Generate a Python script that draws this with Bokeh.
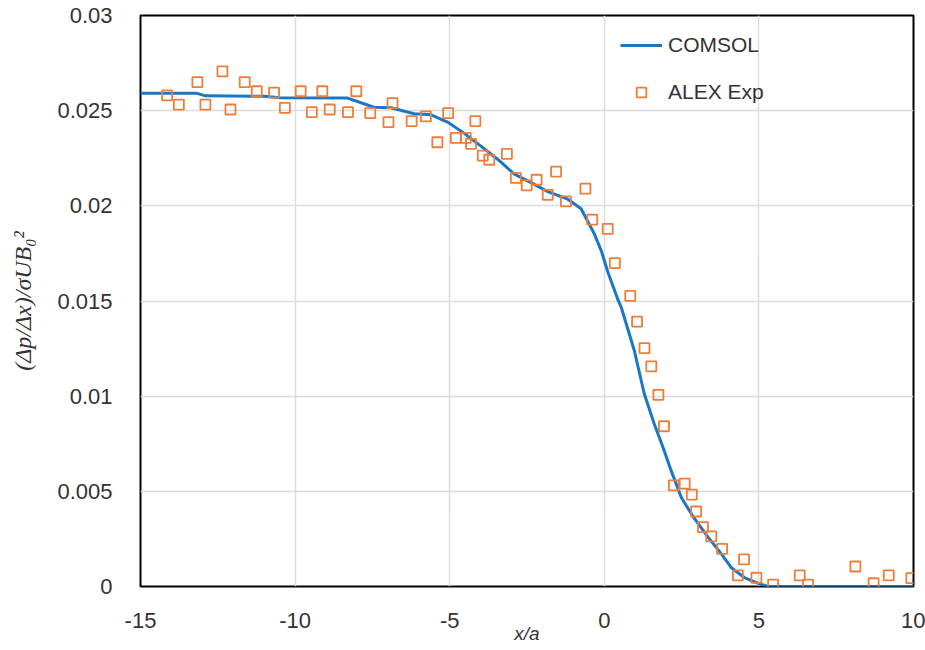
from bokeh.plotting import figure
from bokeh.models import Range1d, FixedTicker, Legend, LegendItem
from bokeh.embed import file_html
from bokeh.resources import INLINE

# COMSOL simulation curve
x_comsol = [-15.0, -13.2, -12.9, -11.0, -10.5, -8.3, -7.45, -6.9, -6.15, -5.6,
            -5.07, -4.54, -4.0, -3.45, -2.92, -2.37, -1.83, -1.18, -0.75, -0.33,
            -0.1, 0.12, 0.45, 0.55, 0.97, 1.29, 1.61, 1.9, 2.16, 2.49,
            2.9, 3.36, 3.78, 4.1, 4.53, 4.98, 5.3, 10.0]
y_comsol = [0.02592, 0.02592, 0.02578, 0.02576, 0.02568, 0.02566, 0.02518, 0.02515, 0.02484, 0.02478,
            0.02440, 0.02382, 0.02315, 0.02245, 0.02168, 0.02122, 0.02075, 0.02035, 0.01985, 0.01855,
            0.01765, 0.01650, 0.01503, 0.01466, 0.01240, 0.01014, 0.00856, 0.00730, 0.00610, 0.00468,
            0.00360, 0.00258, 0.00173, 0.00100, 0.00047, 0.00016, 0.0, 0.0]

# ALEX experimental data
x_exp = [-14.14, -13.76, -13.16, -12.9, -12.35, -12.09, -11.63, -11.24, -10.68, -10.33,
         -9.82, -9.46, -9.12, -8.88, -8.29, -8.02, -7.57, -6.98, -6.85, -6.23,
         -5.77, -5.4, -5.05, -4.8, -4.48, -4.31, -4.17, -3.93, -3.72, -3.15,
         -2.86, -2.51, -2.19, -1.83, -1.56, -1.24, -0.61, -0.39, 0.11, 0.34,
         0.84, 1.06, 1.30, 1.52, 1.75, 1.93, 2.25, 2.60, 2.83, 2.97,
         3.19, 3.46, 3.81, 4.32, 4.52, 4.92, 5.46, 6.32, 6.59, 8.12,
         8.71, 9.2, 9.93]
y_exp = [0.0258, 0.02532, 0.0265, 0.02532, 0.02706, 0.02506, 0.0265, 0.02602, 0.02595, 0.02515,
         0.02602, 0.02492, 0.02602, 0.02506, 0.02492, 0.02602, 0.02487, 0.0244, 0.0254, 0.02445,
         0.0247, 0.02334, 0.02487, 0.02357, 0.02357, 0.02326, 0.02445, 0.02264, 0.02242, 0.02273,
         0.02147, 0.02107, 0.02137, 0.02058, 0.0218, 0.02023, 0.0209, 0.01928, 0.01879, 0.01699,
         0.01527, 0.01392, 0.01252, 0.01157, 0.01007, 0.00842, 0.00531, 0.0054, 0.00483, 0.00394,
         0.00312, 0.00263, 0.00198, 0.00058, 0.00142, 0.00046, 0.0001, 0.00058, 0.0001, 0.00105,
         0.00017, 0.00058, 0.00044]

x_ticks = [-15, -10, -5, 0, 5, 10]
x_tick_labels = ["-15", "-10", "-5", "0", "5", "10"]
y_ticks = [0, 0.005, 0.01, 0.015, 0.02, 0.025, 0.03]
y_tick_labels = ["0", "0.005", "0.01", "0.015", "0.02", "0.025", "0.03"]

series_names = ["COMSOL", "ALEX Exp"]
x_label = "x/a"
y_label = "(Δp/Δx)/σUB₀²"

LINE_C = "#1b77c6"
MARK_C = "#ee7d3a"
TXT_C = "#333333"
GRID_C = "#dcdcdc"

p = figure(width=925, height=650, output_backend="svg", toolbar_location=None,
           x_range=Range1d(-15, 10), y_range=Range1d(0, 0.03),
           min_border_left=140, min_border_right=12, min_border_top=15, min_border_bottom=64)

p.outline_line_color = "black"
p.outline_line_width = 2
p.background_fill_color = "white"
p.border_fill_color = "white"

for ax in (p.xaxis[0], p.yaxis[0]):
    ax.axis_line_color = None
    ax.major_tick_line_color = None
    ax.minor_tick_line_color = None
    ax.major_label_text_font = "Liberation Sans"
    ax.major_label_text_font_size = "22px"
    ax.major_label_text_color = TXT_C
    ax.axis_label_text_color = TXT_C

p.xaxis[0].ticker = FixedTicker(ticks=x_ticks)
p.yaxis[0].ticker = FixedTicker(ticks=y_ticks)
p.xaxis[0].major_label_overrides = {t: s for t, s in zip(x_ticks, x_tick_labels)}
p.yaxis[0].major_label_overrides = {t: s for t, s in zip(y_ticks, y_tick_labels)}
p.xaxis[0].major_label_standoff = 20
p.yaxis[0].major_label_standoff = 22

p.xaxis[0].axis_label = x_label
p.xaxis[0].axis_label_text_font = "Liberation Sans"
p.xaxis[0].axis_label_text_font_style = "italic"
p.xaxis[0].axis_label_text_font_size = "19px"
p.xaxis[0].axis_label_standoff = -8

p.yaxis[0].axis_label = y_label
p.yaxis[0].axis_label_text_font = "Liberation Serif"
p.yaxis[0].axis_label_text_font_style = "italic"
p.yaxis[0].axis_label_text_font_size = "24px"
p.yaxis[0].axis_label_standoff = 18

p.xgrid[0].ticker = FixedTicker(ticks=x_ticks)
p.ygrid[0].ticker = FixedTicker(ticks=y_ticks)
p.xgrid.grid_line_color = GRID_C
p.ygrid.grid_line_color = GRID_C
p.xgrid.grid_line_width = 1.5
p.ygrid.grid_line_width = 1.5

r_line = p.line(x_comsol, y_comsol, line_color=LINE_C, line_width=3)
r_pts = p.scatter(x_exp, y_exp, marker="square", size=10, fill_color=None,
                  line_color=MARK_C, line_width=1.8)

legend = Legend(items=[LegendItem(label=series_names[0], renderers=[r_line]),
                       LegendItem(label=series_names[1], renderers=[r_pts])],
                location=(480, 482), orientation="vertical",
                glyph_width=42, glyph_height=24, label_height=20, spacing=23,
                label_standoff=6, padding=0, margin=0,
                border_line_color=None, background_fill_alpha=0,
                label_text_font="Liberation Sans", label_text_font_size="21px",
                label_text_color=TXT_C)
p.add_layout(legend, "center")

open("out.html", "w").write(file_html(p, INLINE))
